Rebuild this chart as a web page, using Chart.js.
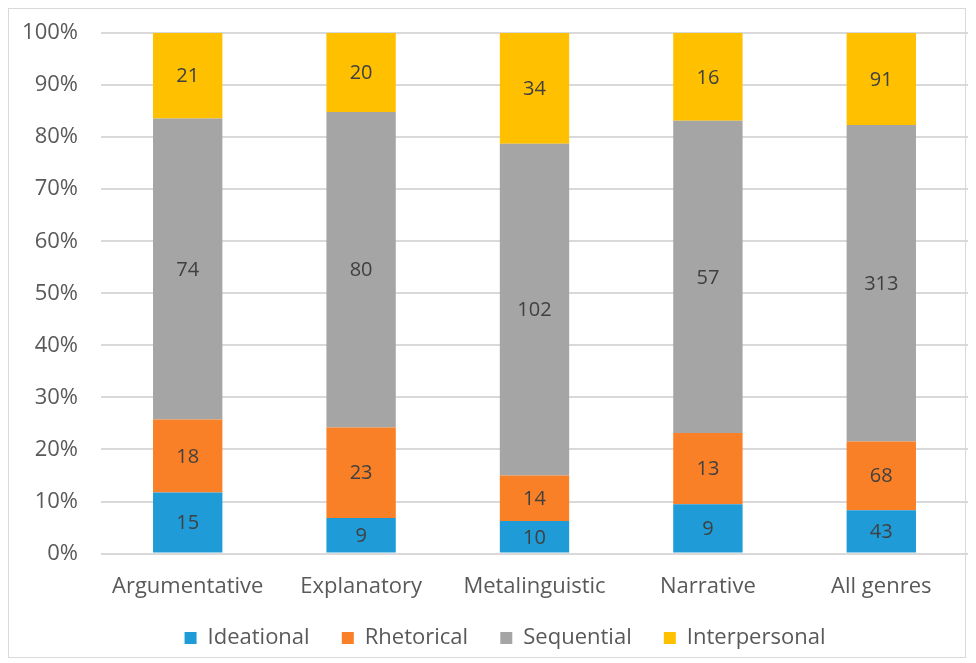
<!DOCTYPE html>
<html>
<head>
<meta charset="utf-8">
<script src="https://cdn.jsdelivr.net/npm/chart.js@4"></script>
<style>
  html, body { margin: 0; padding: 0; background: #fff; }
  #wrap { position: relative; width: 976px; height: 663px; }
  #frame { position: absolute; left: 8px; top: 8px; width: 958px; height: 650px; border: 1px solid #d9d9d9; box-sizing: border-box; }
  canvas { position: absolute; left: 0; top: 0; }
</style>
</head>
<body>
<div id="wrap">
  <div id="frame"></div>
  <canvas id="myChart" width="976" height="663"></canvas>
</div>
<script>
// counts per genre
const genres = ["Argumentative", "Explanatory", "Metalinguistic", "Narrative", "All genres"];
const ideational = [15, 9, 10, 9, 43];
const rhetorical = [18, 23, 14, 13, 68];
const sequential = [74, 80, 102, 57, 313];
const interpersonal = [21, 20, 34, 16, 91];

const seriesNames = ["Ideational", "Rhetorical", "Sequential", "Interpersonal"];
const seriesColors = ["#1f9bd7", "#f98026", "#a5a5a5", "#ffc000"];
const rawSeries = [ideational, rhetorical, sequential, interpersonal];

// totals per genre so each bar fills 100%
const totals = genres.map((g, i) => rawSeries.reduce((s, arr) => s + arr[i], 0));

const FONT = "'Open Sans', sans-serif";

// draw the raw counts in the middle of each segment
const countLabels = {
  id: "countLabels",
  afterDatasetsDraw(chart) {
    const ctx = chart.ctx;
    ctx.save();
    ctx.font = "20px " + FONT;
    ctx.fillStyle = "#404040";
    ctx.textAlign = "center";
    ctx.textBaseline = "middle";
    chart.data.datasets.forEach((ds, di) => {
      chart.getDatasetMeta(di).data.forEach((bar, i) => {
        const p = bar.getCenterPoint();
        ctx.fillText(ds.counts[i], p.x, p.y + 1);
      });
    });
    ctx.restore();
  }
};

// legend sits a bit right of the canvas middle in the original
const legendShift = {
  id: "legendShift",
  afterLayout(chart) {
    chart.legend.left += 14;
    chart.legend.right += 14;
  }
};

const data = {
  labels: genres,
  datasets: rawSeries.map((arr, k) => ({
    label: seriesNames[k],
    counts: arr,
    data: arr.map((v, i) => v / totals[i] * 100),
    backgroundColor: seriesColors[k],
    borderWidth: 0,
    categoryPercentage: 1,
    barPercentage: 0.4,
  })),
};

const config = {
  type: "bar",
  data: data,
  plugins: [countLabels, legendShift],
  options: {
    responsive: false,
    animation: false,
    layout: {
      padding: { left: 14, right: 8, top: 33, bottom: 4 },
    },
    plugins: {
      tooltip: { enabled: false },
      legend: {
        position: "bottom",
        labels: {
          font: { family: FONT, size: 22 },
          color: "#595959",
          boxWidth: 12,
          boxHeight: 12,
          padding: 15,
          // wider gaps between the entries, like the original
          generateLabels(chart) {
            const items = Chart.defaults.plugins.legend.labels.generateLabels(chart);
            items.forEach((it, i) => {
              if (i < items.length - 1) it.text = it.text + "   ";
            });
            return items;
          },
        },
      },
    },
    scales: {
      x: {
        stacked: true,
        grid: { display: false },
        border: { display: false },
        ticks: {
          font: { family: FONT, size: 22 },
          color: "#595959",
          padding: 12,
          maxRotation: 0,
        },
      },
      y: {
        stacked: true,
        min: 0,
        max: 100,
        afterFit(scale) {
          scale.width = 87;
          scale.paddingTop = 0;
          scale.paddingBottom = 0;
        },
        grid: { color: "#d9d9d9", lineWidth: 2, drawTicks: false },
        border: { display: false },
        ticks: {
          stepSize: 10,
          font: { family: FONT, size: 22 },
          color: "#595959",
          padding: 23,
          callback: (v) => v + "%",
        },
      },
    },
  },
};

const myChart = new Chart(document.getElementById("myChart"), config);
</script>
</body>
</html>
